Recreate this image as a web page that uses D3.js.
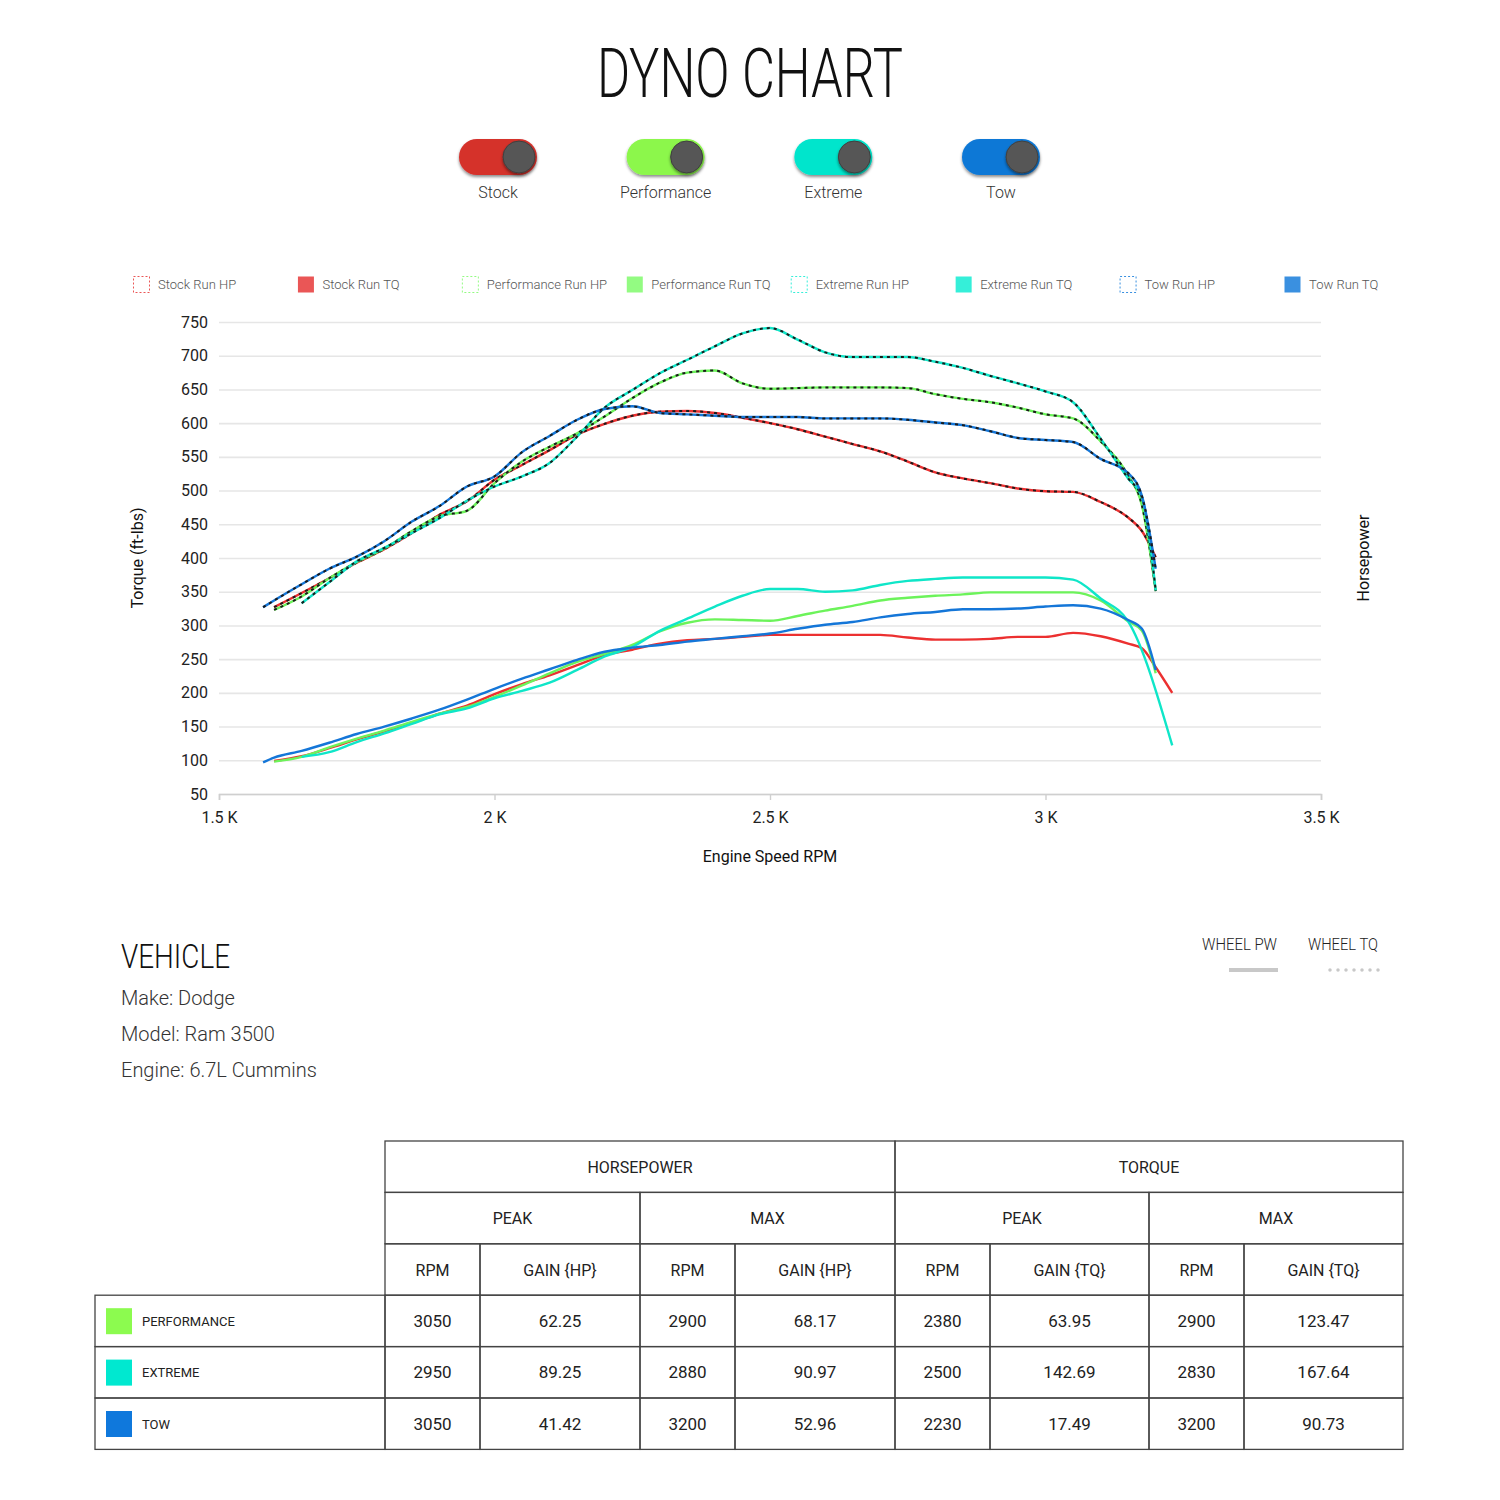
<!DOCTYPE html>
<html>
<head>
<meta charset="utf-8">
<script src="https://cdn.jsdelivr.net/npm/d3@7"></script>
<style>
  body { margin: 0; background: #fff; }
  text { font-family: Roboto, "Noto Sans", sans-serif; }
</style>
</head>
<body>
<svg id="page"></svg>
<script>
// ---- data ----
const rpm = [1580, 1600, 1650, 1700, 1750, 1800, 1850, 1900, 1950, 2000, 2050, 2100, 2150, 2200, 2250, 2300,
  2350, 2400, 2450, 2500, 2550, 2600, 2650, 2700, 2750, 2800, 2850, 2900, 2950, 3000, 3050, 3100, 3150, 3175, 3200, 3230];

const stockTq = [null, 327, 348, 370, 393, 413, 437, 464, 484, 516, 538, 560, 583, 599, 611, 617,
  618, 615, 608, 600, 591, 580, 569, 558, 543, 527, 518, 511, 503, 499, 498, 483, 460, 440, 401, null];
const perfTq = [null, 323, 343, 370, 394, 414, 440, 462, 470, 511, 543, 565, 585, 610, 637, 660,
  675, 678, 659, 651, 652, 653, 653, 653, 652, 643, 636, 631, 623, 613, 607, 573, 522, 478, 351, null];
const extremeTq = [null, null, 333, 364, 395, 415, 437, 459, 485, 506, 521, 541, 580, 623, 649, 674,
  694, 714, 733, 741, 724, 705, 698, 698, 698, 691, 682, 670, 659, 647, 631, 577, 518, 490, 352, null];
const towTq = [327, 337, 361, 384, 402, 425, 454, 477, 506, 521, 557, 581, 605, 621, 625, 615,
  613, 611, 609, 609, 609, 607, 607, 607, 605, 601, 597, 588, 578, 575, 572, 547, 526, 492, 384, null];

const stockHp = [null, 99, 106, 118, 131, 143, 155, 169, 181, 198, 213, 226, 241, 256, 264, 273,
  278, 280, 283, 286, 286, 286, 286, 286, 282, 279, 279, 280, 283, 283, 289, 284, 273, 266, 238, 200];
const perfHp = [null, 98, 105, 119, 132, 144, 157, 169, 179, 194, 211, 229, 246, 258, 271, 291,
  304, 309, 308, 307, 314, 322, 329, 337, 341, 344, 346, 349, 349, 349, 349, 337, 306, 292, 229, null];
const extremeHp = [null, null, 105, 112, 127, 140, 154, 168, 177, 192, 203, 215, 234, 254, 268, 292,
  310, 328, 344, 354, 354, 350, 352, 360, 366, 369, 371, 371, 371, 371, 368, 340, 306, null, null, 122];
const towHp = [97, 104, 114, 126, 139, 150, 162, 175, 190, 206, 221, 235, 249, 261, 267, 271,
  276, 280, 284, 288, 295, 301, 305, 312, 317, 320, 324, 324, 325, 328, 330, 325, 308, 295, 234, null];

const runs = ["Stock", "Performance", "Extreme", "Tow"];
const xTicks = [1500, 2000, 2500, 3000, 3500];
const yTicks = [50, 100, 150, 200, 250, 300, 350, 400, 450, 500, 550, 600, 650, 700, 750];

const vehicleLines = ["Make: Dodge", "Model: Ram 3500", "Engine: 6.7L Cummins"];

const tableRuns = ["PERFORMANCE", "EXTREME", "TOW"];
const hpPeakRpm = [3050, 2950, 3050];
const hpPeakGain = ["62.25", "89.25", "41.42"];
const hpMaxRpm = [2900, 2880, 3200];
const hpMaxGain = ["68.17", "90.97", "52.96"];
const tqPeakRpm = [2380, 2500, 2230];
const tqPeakGain = ["63.95", "142.69", "17.49"];
const tqMaxRpm = [2900, 2830, 3200];
const tqMaxGain = ["123.47", "167.64", "90.73"];

// ---- styling ----
const lineColor = { Stock: "#ec3030", Performance: "#6cf35a", Extreme: "#0fe6c8", Tow: "#1476d8" };
const toggleColor = { Stock: "#d5302c", Performance: "#8cf74c", Extreme: "#00e5cc", Tow: "#0b78d6" };
const keyColor = { Stock: "#ea5656", Performance: "#93fb82", Extreme: "#35efd9", Tow: "#3a90e0" };
const tableColor = { PERFORMANCE: "#8cfb4f", EXTREME: "#00e8d0", TOW: "#0f78dc" };

const svg = d3.select("#page").attr("width", 1500).attr("height", 1500);

const defs = svg.append("defs");
const shadow = defs.append("filter").attr("id", "shadow").attr("x", "-30%").attr("y", "-30%")
  .attr("width", "160%").attr("height", "180%");
shadow.append("feDropShadow").attr("dx", 0).attr("dy", 2).attr("stdDeviation", 1.6)
  .attr("flood-color", "#000").attr("flood-opacity", 0.45);

// title
svg.append("text")
  .attr("x", 750).attr("y", 97)
  .attr("text-anchor", "middle")
  .attr("font-size", 69)
  .attr("font-weight", 300)
  .attr("fill", "#111")
  .attr("textLength", 306)
  .attr("lengthAdjust", "spacingAndGlyphs")
  .text("DYNO CHART");

// run toggles
const toggleX = d3.scalePoint().domain(runs).range([498, 1001]);
const toggles = svg.append("g").selectAll("g").data(runs).join("g")
  .attr("transform", d => `translate(${toggleX(d)},0)`);
toggles.append("rect")
  .attr("x", -39).attr("y", 139).attr("width", 78).attr("height", 36).attr("rx", 18)
  .attr("fill", d => toggleColor[d])
  .attr("filter", "url(#shadow)");
toggles.append("circle")
  .attr("cx", 21).attr("cy", 157).attr("r", 16)
  .attr("fill", "#565656").attr("stroke", "#3f3f3f").attr("stroke-width", 1)
  .attr("filter", "url(#shadow)");
toggles.append("text")
  .attr("y", 198).attr("text-anchor", "middle")
  .attr("font-size", 16).attr("font-weight", 300).attr("fill", "#333")
  .text(d => d);

// legend
const legendKeys = [];
runs.forEach(r => { legendKeys.push({ run: r, kind: "HP" }); legendKeys.push({ run: r, kind: "TQ" }); });
const legendX = d3.scalePoint().domain(d3.range(legendKeys.length)).range([133, 1284]);
const legend = svg.append("g").selectAll("g").data(legendKeys).join("g")
  .attr("transform", (d, i) => `translate(${legendX(i)},276)`);
legend.append("rect")
  .attr("x", 0.5).attr("y", 0.5).attr("width", 16).attr("height", 16)
  .attr("fill", d => d.kind === "TQ" ? keyColor[d.run] : "none")
  .attr("stroke", d => d.kind === "HP" ? keyColor[d.run] : "none")
  .attr("stroke-dasharray", "2,2");
legend.append("text")
  .attr("x", 25).attr("y", 13)
  .attr("font-size", 13).attr("font-weight", 300).attr("fill", "#555")
  .text(d => `${d.run} Run ${d.kind}`);

// chart
const x = d3.scaleLinear().domain([1500, 3500]).range([219, 1321]);
const y = d3.scaleLinear().domain([50, 750]).range([794, 322]);

const grid = svg.append("g").attr("transform", "translate(219,0)")
  .call(d3.axisLeft(y).tickValues(yTicks).tickSize(-1102).tickFormat(""));
grid.select(".domain").remove();
grid.selectAll("line").attr("stroke", "#e6e6e6").attr("stroke-width", 1.6);

const gy = svg.append("g").attr("transform", "translate(219,0)")
  .call(d3.axisLeft(y).tickValues(yTicks).tickSize(0).tickPadding(11));
gy.select(".domain").remove();
gy.selectAll("text").attr("font-size", 16).attr("fill", "#222").attr("font-family", "Roboto, sans-serif");

const gx = svg.append("g").attr("transform", "translate(0,794)")
  .call(d3.axisBottom(x).tickValues(xTicks).tickSize(6).tickPadding(12)
    .tickFormat(d => (d / 1000) + " K"));
gx.select(".domain").attr("stroke", "#cfcfcf").attr("stroke-width", 1.6);
gx.selectAll("line").attr("stroke", "#cfcfcf").attr("stroke-width", 1.4);
gx.selectAll("text").attr("font-size", 16).attr("fill", "#222").attr("font-family", "Roboto, sans-serif");

svg.append("text")
  .attr("transform", "translate(143,558) rotate(-90)")
  .attr("text-anchor", "middle").attr("font-size", 16).attr("fill", "#111")
  .text("Torque (ft-lbs)");
svg.append("text")
  .attr("transform", "translate(1369,558) rotate(-90)")
  .attr("text-anchor", "middle").attr("font-size", 16).attr("fill", "#111")
  .text("Horsepower");
svg.append("text")
  .attr("x", 770).attr("y", 862)
  .attr("text-anchor", "middle").attr("font-size", 16).attr("fill", "#111")
  .text("Engine Speed RPM");

const points = vals => rpm.map((r, i) => ({ r: r, v: vals[i] })).filter(d => d.v != null);
const line = d3.line().x(d => x(d.r)).y(d => y(d.v)).curve(d3.curveMonotoneX);

const hpSeries = [
  { run: "Stock", values: stockHp },
  { run: "Performance", values: perfHp },
  { run: "Extreme", values: extremeHp },
  { run: "Tow", values: towHp }
];
const tqSeries = [
  { run: "Stock", values: stockTq },
  { run: "Performance", values: perfTq },
  { run: "Extreme", values: extremeTq },
  { run: "Tow", values: towTq }
];

const plot = svg.append("g");
plot.selectAll(".hp").data(hpSeries).join("path")
  .attr("class", "hp")
  .attr("d", d => line(points(d.values)))
  .attr("fill", "none")
  .attr("stroke", d => lineColor[d.run])
  .attr("stroke-width", 2.4);

const tq = plot.selectAll(".tq").data(tqSeries).join("g").attr("class", "tq");
tq.append("path")
  .attr("d", d => line(points(d.values)))
  .attr("fill", "none")
  .attr("stroke", d => lineColor[d.run])
  .attr("stroke-width", 2.4);
tq.append("path")
  .attr("d", d => line(points(d.values)))
  .attr("fill", "none")
  .attr("stroke", "#1b1b1b")
  .attr("stroke-width", 2)
  .attr("stroke-dasharray", "3,4");

// vehicle block
svg.append("text")
  .attr("x", 121).attr("y", 968)
  .attr("font-size", 34).attr("font-weight", 300).attr("fill", "#111")
  .attr("textLength", 109).attr("lengthAdjust", "spacingAndGlyphs")
  .text("VEHICLE");
svg.append("g").selectAll("text").data(vehicleLines).join("text")
  .attr("x", 121).attr("y", (d, i) => 1005 + i * 36)
  .attr("font-size", 20).attr("font-weight", 300).attr("fill", "#333")
  .text(d => d);

// wheel key
svg.append("text").attr("x", 1202).attr("y", 950).attr("font-size", 16).attr("font-weight", 300).attr("fill", "#222")
  .attr("textLength", 75).attr("lengthAdjust", "spacingAndGlyphs").text("WHEEL PW");
svg.append("text").attr("x", 1308).attr("y", 950).attr("font-size", 16).attr("font-weight", 300).attr("fill", "#222")
  .attr("textLength", 70).attr("lengthAdjust", "spacingAndGlyphs").text("WHEEL TQ");
svg.append("line").attr("x1", 1229).attr("x2", 1278).attr("y1", 970).attr("y2", 970)
  .attr("stroke", "#c8c8c8").attr("stroke-width", 4);
svg.append("line").attr("x1", 1330).attr("x2", 1379.5).attr("y1", 970).attr("y2", 970)
  .attr("stroke", "#c8c8c8").attr("stroke-width", 3.5)
  .attr("stroke-linecap", "round").attr("stroke-dasharray", "0,8");

// results table
const table = svg.append("g");
const tableTop = 1141, rowH = 51.4;
const colW = [95, 160, 95, 160, 95, 159, 95, 159];
const colX = [385];
colW.forEach(w => colX.push(colX[colX.length - 1] + w));

const cells = [];
cells.push({ x0: colX[0], x1: colX[4], row: 0, text: "HORSEPOWER" });
cells.push({ x0: colX[4], x1: colX[8], row: 0, text: "TORQUE" });
["PEAK", "MAX", "PEAK", "MAX"].forEach((t, i) =>
  cells.push({ x0: colX[i * 2], x1: colX[i * 2 + 2], row: 1, text: t }));
["RPM", "GAIN {HP}", "RPM", "GAIN {HP}", "RPM", "GAIN {TQ}", "RPM", "GAIN {TQ}"].forEach((t, i) =>
  cells.push({ x0: colX[i], x1: colX[i + 1], row: 2, text: t }));
tableRuns.forEach((run, r) => {
  const vals = [hpPeakRpm[r], hpPeakGain[r], hpMaxRpm[r], hpMaxGain[r],
    tqPeakRpm[r], tqPeakGain[r], tqMaxRpm[r], tqMaxGain[r]];
  cells.push({ x0: 95, x1: colX[0], row: 3 + r, text: "", run: run });
  vals.forEach((v, i) => cells.push({ x0: colX[i], x1: colX[i + 1], row: 3 + r, text: v, num: true }));
});

const cell = table.selectAll("g").data(cells).join("g");
cell.append("rect")
  .attr("x", d => d.x0).attr("y", d => tableTop + d.row * rowH)
  .attr("width", d => d.x1 - d.x0).attr("height", rowH)
  .attr("fill", "none").attr("stroke", "#444").attr("stroke-width", 1.3);
cell.append("text")
  .attr("x", d => (d.x0 + d.x1) / 2)
  .attr("y", d => tableTop + d.row * rowH + rowH / 2 + 6)
  .attr("text-anchor", "middle")
  .attr("font-size", d => d.num ? 17 : 16)
  .attr("fill", "#222")
  .text(d => d.text);

const runCells = cell.filter(d => d.run);
runCells.append("rect")
  .attr("x", 106).attr("y", d => tableTop + d.row * rowH + 13)
  .attr("width", 26).attr("height", 26)
  .attr("fill", d => tableColor[d.run]);
runCells.append("text")
  .attr("x", 142).attr("y", d => tableTop + d.row * rowH + rowH / 2 + 5)
  .attr("font-size", 13).attr("fill", "#222")
  .text(d => d.run);
</script>
</body>
</html>
